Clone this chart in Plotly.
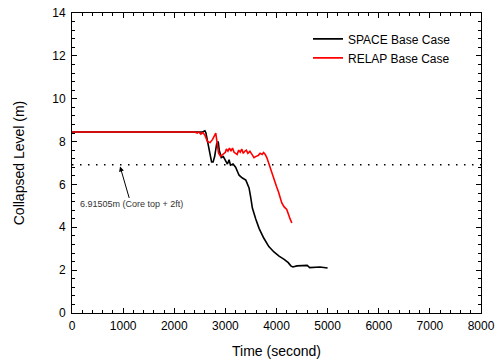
import plotly.graph_objects as go

# SPACE Base Case (black)
space_t = [0, 2550, 2600, 2620, 2660, 2700, 2730, 2760, 2790, 2830, 2860, 2880, 2920, 2960, 3000,
           3040, 3072, 3100, 3150, 3200, 3268, 3300, 3333, 3400, 3463, 3496, 3528, 3594, 3659,
           3750, 3850, 3950, 4050, 4150, 4230, 4280, 4320, 4400, 4600, 4650, 4800, 4850, 5000]
space_v = [8.45, 8.45, 8.5, 8.4, 7.9, 7.35, 7.05, 7.05, 7.3, 7.9, 8.0, 7.6, 7.25, 7.3, 7.1,
           6.95, 7.15, 6.9, 6.95, 6.8, 6.43, 6.35, 6.3, 6.2, 5.84, 5.4, 4.9, 4.39, 3.95,
           3.5, 3.1, 2.85, 2.65, 2.5, 2.35, 2.2, 2.15, 2.2, 2.22, 2.12, 2.12, 2.15, 2.1]

# RELAP Base Case (red)
relap_t = [0, 2400, 2450, 2480, 2520, 2560, 2600, 2650, 2700, 2750, 2812, 2840, 2866, 2905, 2950,
           3000, 3020, 3050, 3080, 3110, 3140, 3170, 3200, 3230, 3260, 3290, 3320, 3350, 3380,
           3410, 3440, 3480, 3520, 3560, 3600, 3640, 3680, 3720, 3747, 3780, 3814, 3857, 3900,
           3940, 4000, 4038, 4103, 4150, 4200, 4266, 4300]
relap_v = [8.45, 8.45, 8.4, 8.45, 8.35, 8.42, 8.3, 8.0, 7.95, 8.1, 8.39, 7.9, 7.47, 7.31, 7.4,
           7.5, 7.65, 7.55, 7.7, 7.55, 7.7, 7.5, 7.45, 7.4, 7.6, 7.5, 7.65, 7.45, 7.55,
           7.6, 7.45, 7.55, 7.4, 7.25, 7.31, 7.35, 7.45, 7.4, 7.49, 7.4, 7.23, 6.9, 6.55,
           6.27, 5.9, 5.66, 5.14, 4.95, 4.83, 4.39, 4.2]

core_level = 6.91505
core_label = "6.91505m (Core top + 2ft)"
x_range = [0, 8000]
y_range = [0, 14]
x_major_step, x_minor_step = 1000, 200
y_major_step, y_minor_step = 2, 0.4

FONT = "Liberation Sans, Arial, sans-serif"

fig = go.Figure()
fig.add_trace(go.Scatter(x=x_range, y=[core_level, core_level], mode="lines",
                         line=dict(color="black", width=1.5, dash="1.5px,6.5px"),
                         showlegend=False, hoverinfo="skip"))
fig.add_trace(go.Scatter(x=space_t, y=space_v, mode="lines", name="SPACE Base Case",
                         line=dict(color="black", width=1.6)))
fig.add_trace(go.Scatter(x=relap_t, y=relap_v, mode="lines", name="RELAP Base Case",
                         line=dict(color="#ff0000", width=1.6)))

# single annotation: arrow head on the core-level line, label below it
fig.add_annotation(x=940, y=6.84, ax=11, ay=38, text=core_label, showarrow=True,
                   arrowhead=2, arrowsize=1, arrowwidth=1, arrowcolor="black",
                   font=dict(family=FONT, size=9, color="#333333"))

axis_common = dict(showline=True, linecolor="black", linewidth=1, mirror="allticks",
                   ticks="inside", ticklen=5, tickwidth=1, tickcolor="black", showgrid=False,
                   zeroline=False, tickmode="linear", tick0=0,
                   tickfont=dict(family=FONT, size=12, color="black"))

fig.update_xaxes(range=x_range, dtick=x_major_step, ticklabelstandoff=2,
                 title=dict(text="Time (second)", font=dict(family=FONT, size=14, color="black"),
                            standoff=13),
                 minor=dict(dtick=x_minor_step, ticks="inside", ticklen=3, tickwidth=1,
                            tickcolor="black", showgrid=False),
                 **axis_common)
fig.update_yaxes(range=y_range, dtick=y_major_step, ticklabelstandoff=3,
                 title=dict(text="Collapsed Level (m)", font=dict(family=FONT, size=14, color="black"),
                            standoff=24),
                 minor=dict(dtick=y_minor_step, ticks="inside", ticklen=3, tickwidth=1,
                            tickcolor="black", showgrid=False),
                 **axis_common)

fig.update_layout(template="none",
                  width=500, height=362, margin=dict(l=72, r=19, t=13, b=49, autoexpand=False),
                  plot_bgcolor="white", paper_bgcolor="white",
                  font=dict(family=FONT, size=12, color="black"),
                  legend=dict(x=0.577, y=0.962, xanchor="left", yanchor="top",
                              bgcolor="rgba(0,0,0,0)", font=dict(family=FONT, size=12),
                              tracegroupgap=0, itemwidth=30))

fig.write_html("out.html", config={"displayModeBar": False},
               post_script="document.body.style.margin='0px';document.body.style.padding='0px';")
